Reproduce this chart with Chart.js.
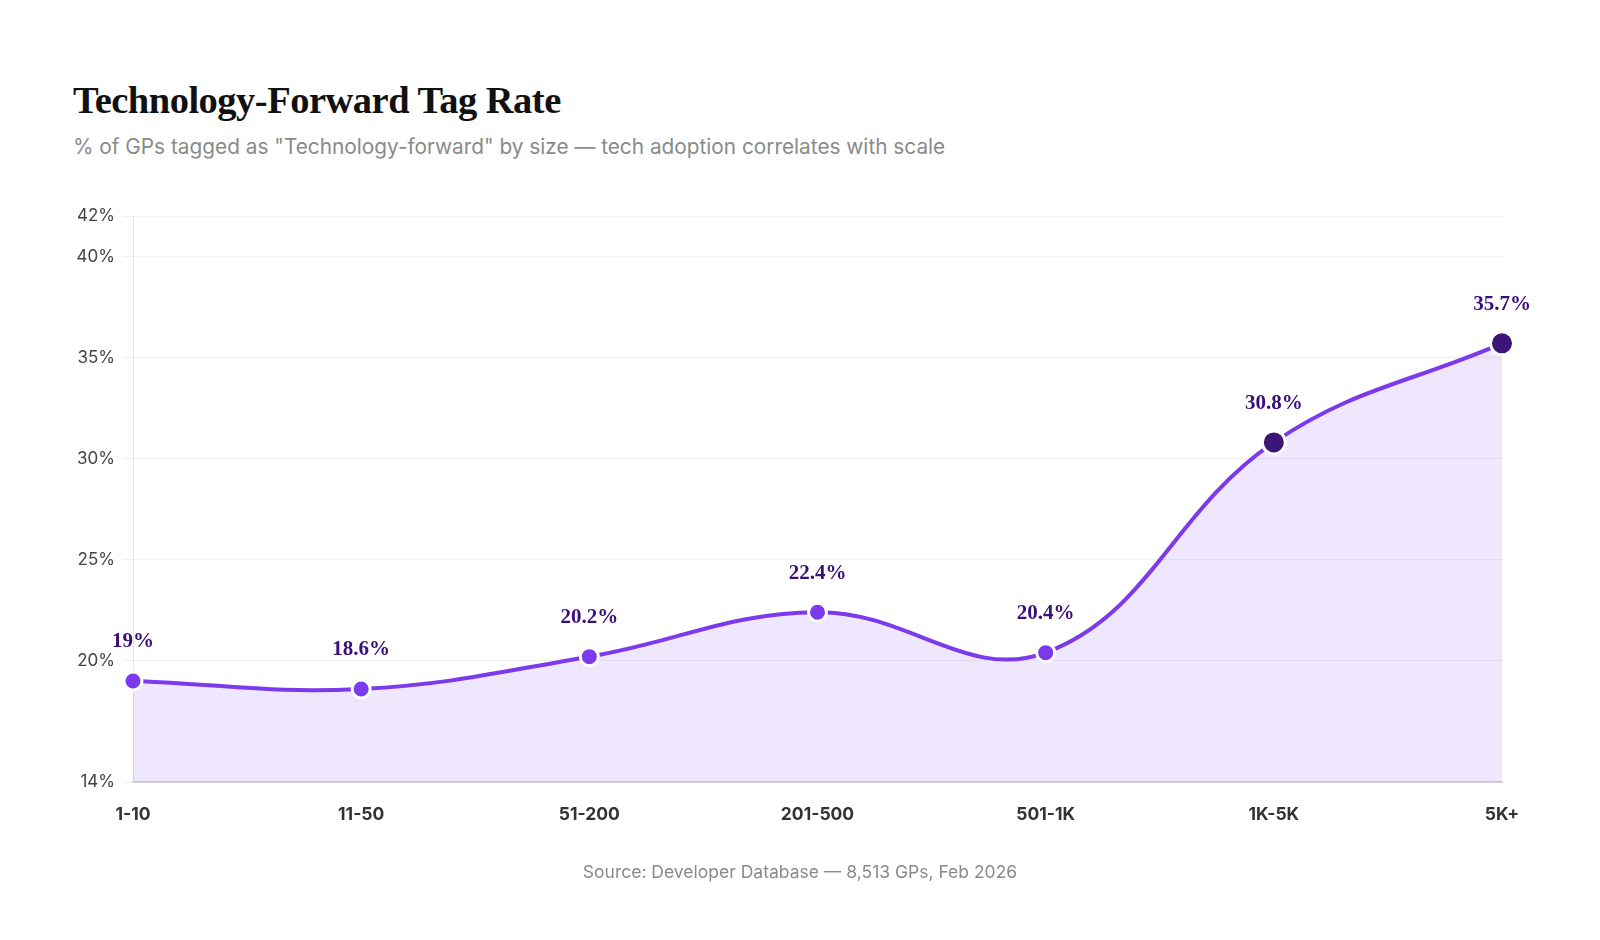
<!DOCTYPE html>
<html>
<head>
<meta charset="utf-8">
<script src="https://cdn.jsdelivr.net/npm/chart.js@4.4.1/dist/chart.umd.min.js"></script>
<style>
  body { margin: 0; background: #fff; width: 1600px; height: 940px; position: relative; overflow: hidden; }
  #titulo { position: absolute; left: 73px; top: 78px; font-family: "Liberation Serif", serif; font-weight: bold; font-size: 38.5px; color: #111; letter-spacing: -0.5px; }
  #subtitulo { position: absolute; left: 73px; top: 134px; font-family: Inter, sans-serif; font-size: 20.8px; color: #8a8a8a; }
  #fuente { position: absolute; left: 0; width: 1600px; top: 861px; text-align: center; font-family: Inter, sans-serif; font-size: 17.5px; color: #8a8a8a; }
  #caja { position: absolute; left: 0; top: 180px; width: 1600px; height: 694px; }
</style>
</head>
<body>
<div id="titulo">Technology-Forward Tag Rate</div>
<div id="subtitulo">% of GPs tagged as "Technology-forward" by size — tech adoption correlates with scale</div>
<div id="caja"><canvas id="miGrafica"></canvas></div>
<div id="fuente">Source: Developer Database — 8,513 GPs, Feb 2026</div>

<script>
const categorias = ["1-10", "11-50", "51-200", "201-500", "501-1K", "1K-5K", "5K+"];
const tasas = [19, 18.6, 20.2, 22.4, 20.4, 30.8, 35.7];
const etiquetas = ["19%", "18.6%", "20.2%", "22.4%", "20.4%", "30.8%", "35.7%"];
const ticksY = [14, 20, 25, 30, 35, 40, 42];
const destacados = [false, false, false, false, false, true, true];

// etiquetas encima de cada punto
const pluginEtiquetas = {
    id: "etiquetas",
    afterDatasetsDraw(chart) {
        const ctx = chart.ctx;
        const meta = chart.getDatasetMeta(0);
        ctx.save();
        ctx.font = "bold 21px 'Liberation Serif', serif";
        ctx.fillStyle = "#3b0f7a";
        ctx.textAlign = "center";
        ctx.textBaseline = "middle";
        meta.data.forEach((p, i) => {
            ctx.fillText(etiquetas[i], p.x, p.y - 39);
        });
        ctx.restore();
    }
};

const ctx = document.getElementById("miGrafica").getContext("2d");
new Chart(ctx, {
    type: "line",
    data: {
        labels: categorias,
        datasets: [{
            data: tasas,
            borderColor: "#7c3aed",
            borderWidth: 4,
            backgroundColor: "rgba(124, 58, 237, 0.12)",
            fill: "start",
            tension: 0.4,
            pointBackgroundColor: destacados.map(d => d ? "#3b1578" : "#7c3aed"),
            pointBorderColor: "#ffffff",
            pointBorderWidth: 3,
            pointRadius: destacados.map(d => d ? 11.5 : 9),
            pointHoverRadius: destacados.map(d => d ? 11.5 : 9)
        }]
    },
    options: {
        responsive: true,
        maintainAspectRatio: false,
        animation: false,
        layout: { padding: { top: 36, right: 98, bottom: 27, left: 0 } },
        plugins: {
            legend: { display: false },
            tooltip: { enabled: false }
        },
        scales: {
            x: {
                offset: false,
                grid: { display: false, drawTicks: false },
                border: { display: true, color: "#d4d4d8", width: 2 },
                ticks: { color: "#333", padding: 22, font: { family: "Inter", size: 17.5, weight: "bold" } }
            },
            y: {
                min: 14,
                max: 42,
                afterBuildTicks: scale => { scale.ticks = ticksY.map(v => ({ value: v })); },
                afterFit: scale => { scale.width = 133; },
                grid: { color: "#efefef", tickLength: 10 },
                border: { display: true, color: "#e4e4e7" },
                ticks: {
                    color: "#444",
                    padding: 8,
                    font: { family: "Inter", size: 17 },
                    callback: v => v + "%"
                }
            }
        }
    },
    plugins: [pluginEtiquetas]
});
</script>
</body>
</html>
